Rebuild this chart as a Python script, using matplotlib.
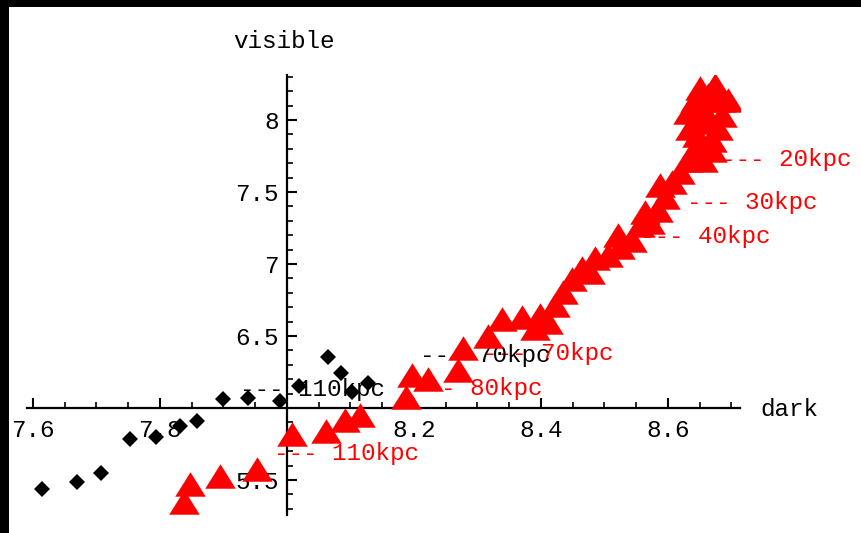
import matplotlib.pyplot as plt
from matplotlib.patches import Rectangle
import numpy as np

# black diamonds (dark, visible)
dark_black = [7.614, 7.669, 7.707, 7.753, 7.794, 7.831, 7.858, 7.899, 7.939, 7.989,
              8.019, 8.065, 8.085, 8.102, 8.128]
vis_black = [5.438, 5.486, 5.549, 5.785, 5.799, 5.875, 5.910, 6.063, 6.069, 6.049,
             6.153, 6.354, 6.243, 6.111, 6.174]

# red triangles
dark_red = [7.838, 7.847, 7.894, 7.953, 8.008, 8.061, 8.091, 8.115, 8.187, 8.197,
            8.222, 8.269, 8.277, 8.317, 8.339, 8.370, 8.411, 8.422, 8.435, 8.449,
            8.465, 8.485, 8.506, 8.524, 8.543, 8.556, 8.564, 8.584, 8.595, 8.606,
            8.619, 8.631, 8.643, 8.646, 8.650, 8.669, 8.654, 8.663, 8.674, 8.682,
            8.685, 8.666, 8.643, 8.679, 8.631, 8.635, 8.694, 8.650, 8.655, 8.669,
            8.587, 8.572, 8.521, 8.477, 8.398, 8.391]
vis_red = [5.347, 5.472, 5.528, 5.576, 5.819, 5.840, 5.917, 5.951, 6.076, 6.229,
           6.201, 6.264, 6.417, 6.500, 6.618, 6.632, 6.597, 6.715, 6.806, 6.896,
           6.972, 7.042, 7.063, 7.118, 7.167, 7.271, 7.361, 7.375, 7.465, 7.569,
           7.639, 7.722, 7.806, 7.896, 7.986, 7.861, 8.083, 8.174, 8.243, 8.139,
           8.035, 8.000, 8.139, 7.944, 8.056, 7.944, 8.139, 8.222, 7.722, 7.792,
           7.549, 7.292, 7.201, 6.944, 6.646, 6.556]

# distance labels
red_labels = ["20kpc", "30kpc", "40kpc", "70kpc", "80kpc", "110kpc"]
red_lab_x = [8.683, 8.630, 8.556, 8.309, 8.197, 7.980]
red_lab_y = [7.729, 7.424, 7.194, 6.375, 6.132, 5.681]
black_labels = ["110kpc", "70kpc"]
black_lab_x = [7.926, 8.209]
black_lab_y = [6.125, 6.368]

xtick_vals = [7.6, 7.8, 8.2, 8.4, 8.6]
xtick_labels = ["7.6", "7.8", "8.2", "8.4", "8.6"]
ytick_vals = [5.5, 6.5, 7.0, 7.5, 8.0]
ytick_labels = ["5.5", "6.5", "7", "7.5", "8"]

font = "Liberation Mono"
fs = 17.5

fig = plt.figure(figsize=(8.62, 5.33), dpi=100, facecolor="black")
fig.patches.append(Rectangle((9 / 862, 0), 1, 1 - 7 / 533, transform=fig.transFigure,
                             facecolor="white", edgecolor="none", zorder=-10))

ax = fig.add_axes([27 / 862, 18 / 533, 713 / 862, 440 / 533])
ax.patch.set_alpha(0)
ax.set_xlim(7.5906, 8.7134)
ax.set_ylim(5.2569, 8.3125)

for s in ["top", "right"]:
    ax.spines[s].set_visible(False)
ax.spines["left"].set_position(("data", 8.0))
ax.spines["bottom"].set_position(("data", 6.0))
ax.spines["left"].set_linewidth(1.6)
ax.spines["bottom"].set_linewidth(1.6)

ax.set_xticks(xtick_vals)
ax.set_xticklabels(xtick_labels, family=font, fontsize=fs)
ax.set_xticks(np.arange(7.6, 8.71, 0.05), minor=True)
ax.set_yticks(ytick_vals)
ax.set_yticklabels(ytick_labels, family=font, fontsize=fs)
ax.set_yticks(np.arange(5.3, 8.31, 0.1), minor=True)
ax.tick_params(axis="both", which="major", direction="in", length=7, width=1.5)
ax.tick_params(axis="both", which="minor", direction="in", length=4, width=1.2)
ax.tick_params(axis="x", pad=8)
ax.tick_params(axis="y", pad=6)

for lab, x, y in zip(red_labels, red_lab_x, red_lab_y):
    ax.text(x, y, "--- " + lab, color="red", family=font, fontsize=fs,
            ha="left", va="center", zorder=2)
for lab, x, y in zip(black_labels, black_lab_x, black_lab_y):
    ax.text(x, y, "--- " + lab, color="black", family=font, fontsize=fs,
            ha="left", va="center", zorder=2)

ax.plot(dark_black, vis_black, linestyle="none", marker="D", markersize=8.5,
        color="black", markeredgewidth=0, zorder=3)
tri = [(-1, -0.8), (1, -0.8), (0, 0.8)]
ax.plot(dark_red, vis_red, linestyle="none", marker=tri, markersize=22,
        color="red", markeredgewidth=0, zorder=4)

fig.text(284 / 862, 1 - 42 / 533, "visible", family=font, fontsize=fs,
         ha="center", va="center")
fig.text(760 / 862, 1 - 410 / 533, "dark", family=font, fontsize=fs,
         ha="left", va="center")

fig.savefig("out.png", dpi=100, facecolor=fig.get_facecolor())
